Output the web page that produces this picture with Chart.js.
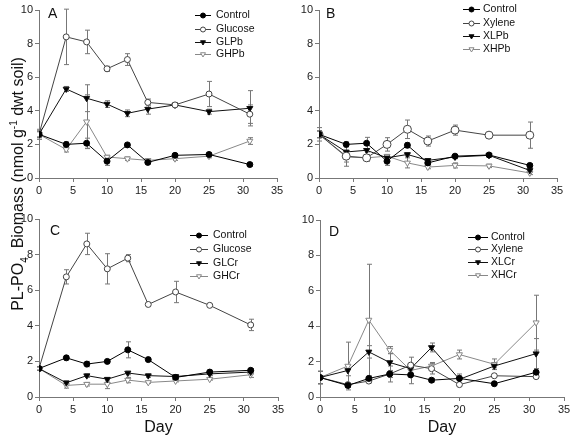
<!DOCTYPE html>
<html>
<head>
<meta charset="utf-8">
<script src="https://cdn.jsdelivr.net/npm/chart.js@4.4.1/dist/chart.umd.min.js"></script>
<style>
  body { margin: 0; background: #fff; }
  #wrap { position: relative; width: 576px; height: 437px; overflow: hidden; font-family: "Liberation Sans", Arial, sans-serif; }
  canvas { position: absolute; }
  #ytitle {
    position: absolute; left: -136px; top: 174px; width: 300px; height: 20px;
    line-height: 20px; text-align: center; font-size: 16px; color: #111;
    transform: rotate(-90deg); white-space: nowrap;
  }
  #ytitle sub, #ytitle sup { font-size: 10px; }
</style>
</head>
<body>
<div id="wrap">
  <canvas id="cA" width="290" height="210" style="left:0;top:0"></canvas>
  <canvas id="cB" width="286" height="210" style="left:290px;top:0"></canvas>
  <canvas id="cC" width="290" height="227" style="left:0;top:210px"></canvas>
  <canvas id="cD" width="286" height="227" style="left:290px;top:210px"></canvas>
  <div id="ytitle">PL-PO<sub>4</sub>&nbsp; Biomass (nmol g<sup>-1</sup> dwt soil)</div>
</div>
<script>
// sampling days and axis ticks
const days = [0, 4, 7, 10, 13, 16, 20, 25, 31];
const xTicks = [0, 5, 10, 15, 20, 25, 30, 35];
const yTicks = [0, 2, 4, 6, 8, 10];

// panel A - glucose / Pb
const aLabels = ["Control", "Glucose", "GLPb", "GHPb"];
const aControl = [2.6, 2.0, 2.07, 1.0, 1.97, 0.93, 1.35, 1.4, 0.8];
const aGlucose = [2.6, 8.4, 8.1, 6.5, 7.05, 4.5, 4.35, 5.0, 3.8];
const aGLPb = [2.6, 5.3, 4.75, 4.4, 3.85, 4.1, 4.35, 3.95, 4.15];
const aGHPb = [2.6, 1.7, 3.35, 1.25, 1.15, 1.05, 1.15, 1.3, 2.2];
const aControlErr = [0.15, 0.15, 0.3, 0.25, 0.1, 0.1, 0.1, 0.1, 0.1];
const aGlucoseErr = [0.3, 1.65, 0.7, 0.15, 0.35, 0.2, 0.1, 0.75, 0.55];
const aGLPbErr = [0.2, 0.15, 0.8, 0.2, 0.2, 0.3, 0.1, 0.15, 1.05];
const aGHPbErr = [0.2, 0.15, 1.6, 0.1, 0.1, 0.1, 0.1, 0.1, 0.2];

// panel B - xylene / Pb
const bLabels = ["Control", "Xylene", "XLPb", "XHPb"];
const bControl = [2.6, 2.0, 2.07, 1.0, 1.95, 0.9, 1.3, 1.37, 0.75];
const bXylene = [2.6, 1.3, 1.2, 2.0, 2.9, 2.2, 2.85, 2.55, 2.55];
const bXLPb = [2.6, 1.55, 1.65, 1.2, 1.4, 1.05, 1.25, 1.35, 0.45];
const bXHPb = [2.6, 1.25, 1.2, 1.3, 0.9, 0.65, 0.75, 0.72, 0.3];
const bControlErr = [0.4, 0.15, 0.35, 0.25, 0.15, 0.1, 0.1, 0.1, 0.1];
const bXyleneErr = [0.2, 0.6, 0.2, 0.4, 0.55, 0.3, 0.3, 0.1, 0.78];
const bXLPbErr = [0.2, 0.1, 0.1, 0.1, 0.1, 0.1, 0.1, 0.1, 0.1];
const bXHPbErr = [0.2, 0.3, 0.1, 0.1, 0.3, 0.1, 0.15, 0.1, 0.1];

// panel C - glucose / Cr
const cLabels = ["Control", "Glucose", "GLCr", "GHCr"];
const cControl = [1.6, 2.2, 1.85, 2.0, 2.65, 2.1, 1.1, 1.4, 1.5];
const cGlucose = [1.6, 6.75, 8.6, 7.2, 7.8, 5.2, 5.9, 5.15, 4.05];
const cGLCr = [1.6, 0.8, 1.2, 1.0, 1.35, 1.2, 1.15, 1.3, 1.4];
const cGHCr = [1.6, 0.65, 0.72, 0.72, 0.95, 0.82, 0.9, 1.0, 1.25];
const cControlErr = [0.1, 0.12, 0.15, 0.1, 0.45, 0.1, 0.1, 0.1, 0.1];
const cGlucoseErr = [0.1, 0.4, 0.6, 0.85, 0.2, 0.1, 0.6, 0.05, 0.32];
const cGLCrErr = [0.1, 0.1, 0.1, 0.1, 0.1, 0.1, 0.1, 0.1, 0.1];
const cGHCrErr = [0.1, 0.15, 0.1, 0.25, 0.15, 0.05, 0.05, 0.05, 0.15];

// panel D - xylene / Cr
const dLabels = ["Control", "Xylene", "XLCr", "XHCr"];
const dControl = [1.1, 0.65, 1.05, 1.3, 1.25, 0.95, 1.05, 0.75, 1.4];
const dXylene = [1.1, 0.7, 0.9, 1.3, 1.8, 1.6, 0.7, 1.2, 1.15];
const dXLCr = [1.1, 1.5, 2.55, 1.95, 1.6, 2.8, 1.0, 1.75, 2.45];
const dXHCr = [1.1, 1.75, 4.35, 2.65, 1.5, 1.75, 2.4, 1.85, 4.2];
const dControlErr = [0.35, 0.1, 0.1, 0.45, 0.5, 0.1, 0.25, 0.1, 0.2];
const dXyleneErr = [0.35, 0.1, 0.1, 0.2, 0.45, 0.3, 0.1, 0.1, 0.1];
const dXLCrErr = [0.35, 0.3, 0.35, 0.5, 0.3, 0.25, 0.2, 0.1, 0.85];
const dXHCrErr = [0.35, 1.35, 3.15, 0.2, 0.3, 0.2, 0.25, 0.3, 1.55];

// marker styles per treatment type
const STYLES = [
  { line: "#000", fill: "#000", shape: "circle", rot: 0, r: 3 },
  { line: "#444", fill: "#fff", shape: "circle", rot: 0, r: 3 },
  { line: "#111", fill: "#000", shape: "triangle", rot: 180, r: 3.5 },
  { line: "#888", fill: "#fff", shape: "triangle", rot: 180, r: 3.5 }
];

function marker(ctx, st, x, y, r) {
  ctx.beginPath();
  if (st.shape === "circle") {
    ctx.arc(x, y, r, 0, Math.PI * 2);
  } else {
    // down-pointing triangle
    ctx.moveTo(x - r, y - r * 0.7);
    ctx.lineTo(x + r, y - r * 0.7);
    ctx.lineTo(x, y + r);
    ctx.closePath();
  }
  ctx.fillStyle = st.fill;
  ctx.strokeStyle = st.line;
  ctx.lineWidth = 1;
  ctx.fill();
  ctx.stroke();
}

// error bars, drawn under the markers
const errorBars = {
  id: "errorBars",
  beforeDatasetsDraw(chart) {
    const { ctx, scales: { x, y } } = chart;
    ctx.save();
    ctx.strokeStyle = "#777";
    ctx.lineWidth = 1;
    chart.data.datasets.forEach(ds => {
      (ds.errors || []).forEach((e, i) => {
        const p = ds.data[i];
        const px = Math.round(x.getPixelForValue(p.x)) + 0.5;
        const top = y.getPixelForValue(p.y + e);
        const bot = y.getPixelForValue(Math.max(0, p.y - e));
        ctx.beginPath();
        ctx.moveTo(px, top); ctx.lineTo(px, bot);
        ctx.moveTo(px - 2.5, top); ctx.lineTo(px + 2.5, top);
        ctx.moveTo(px - 2.5, bot); ctx.lineTo(px + 2.5, bot);
        ctx.stroke();
      });
    });
    ctx.restore();
  }
};

// panel letter + inset legend
const panelDeco = {
  id: "panelDeco",
  afterDraw(chart, args, o) {
    const ctx = chart.ctx;
    ctx.save();
    ctx.fillStyle = "#111";
    ctx.font = "14px 'Liberation Sans', Arial, sans-serif";
    ctx.textBaseline = "alphabetic";
    ctx.fillText(o.letter, o.letterX, o.letterY);
    ctx.font = "10.5px 'Liberation Sans', Arial, sans-serif";
    ctx.textBaseline = "middle";
    chart.data.datasets.forEach((ds, i) => {
      const y = o.rows[i] + 0.5;
      ctx.strokeStyle = ds.borderColor;
      ctx.lineWidth = 1;
      ctx.beginPath();
      ctx.moveTo(o.x1, y); ctx.lineTo(o.x2, y);
      ctx.stroke();
      marker(ctx, ds.st, (o.x1 + o.x2) / 2, y, 2.5);
      ctx.fillStyle = "#111";
      ctx.fillText(ds.label, o.tx, y);
    });
    ctx.restore();
  }
};

function makePanel(id, labels, series, errs, p) {
  const datasets = series.map((vals, i) => {
    const st = STYLES[i];
    return {
      label: labels[i],
      data: days.map((d, j) => ({ x: d, y: vals[j] })),
      errors: errs[i],
      st: st,
      borderColor: st.line,
      borderWidth: 1,
      backgroundColor: st.fill,
      pointBackgroundColor: st.fill,
      pointBorderColor: st.line,
      pointBorderWidth: 1,
      pointStyle: st.shape,
      pointRotation: st.rot,
      pointRadius: (p.openR && i === 1) ? p.openR : st.r,
      tension: 0
    };
  });
  const tickFont = { family: "'Liberation Sans', Arial, sans-serif", size: 11 };
  return new Chart(document.getElementById(id), {
    type: "line",
    data: { datasets },
    plugins: [errorBars, panelDeco],
    options: {
      responsive: false,
      animation: false,
      devicePixelRatio: 1,
      layout: { padding: { left: 0, top: p.top, right: p.right, bottom: 0 } },
      plugins: {
        legend: { display: false },
        tooltip: { enabled: false },
        panelDeco: p.deco
      },
      scales: {
        x: {
          type: "linear", min: 0, max: 35,
          afterBuildTicks: s => { s.ticks = xTicks.map(v => ({ value: v })); },
          afterFit: s => { s.height = p.xh; },
          ticks: { font: tickFont, color: "#222", padding: 2, maxRotation: 0 },
          grid: { drawOnChartArea: false, drawTicks: true, tickLength: 4, color: "#777" },
          border: { color: "#777" },
          title: {
            display: p.day, text: "Day", color: "#111",
            font: { family: "'Liberation Sans', Arial, sans-serif", size: 16 },
            padding: { top: 0, bottom: 0 }
          }
        },
        y: {
          min: 0, max: 10,
          afterBuildTicks: s => { s.ticks = yTicks.map(v => ({ value: v })); },
          afterFit: s => { s.width = p.yw; },
          ticks: { font: tickFont, color: "#222", padding: 2 },
          grid: { drawOnChartArea: false, drawTicks: true, tickLength: 4, color: "#777" },
          border: { color: "#777" }
        }
      }
    }
  });
}

makePanel("cA", aLabels, [aControl, aGlucose, aGLPb, aGHPb],
  [aControlErr, aGlucoseErr, aGLPbErr, aGHPbErr],
  { top: 10, right: 13, yw: 39, xh: 32, day: false,
    deco: { letter: "A", letterX: 48, letterY: 18, x1: 195, x2: 211, tx: 216, rows: [15, 29, 42, 54] } });

makePanel("cB", bLabels, [bControl, bXylene, bXLPb, bXHPb],
  [bControlErr, bXyleneErr, bXLPbErr, bXHPbErr],
  { top: 10, right: 19, yw: 29, xh: 32, day: false, openR: 4,
    deco: { letter: "B", letterX: 36, letterY: 18, x1: 173, x2: 190, tx: 193, rows: [9, 23, 36, 49] } });

makePanel("cC", cLabels, [cControl, cGlucose, cGLCr, cGHCr],
  [cControlErr, cGlucoseErr, cGLCrErr, cGHCrErr],
  { top: 9, right: 12, yw: 39, xh: 40, day: true,
    deco: { letter: "C", letterX: 50, letterY: 25, x1: 190, x2: 208, tx: 213, rows: [25, 39, 53, 66] } });

makePanel("cD", dLabels, [dControl, dXylene, dXLCr, dXHCr],
  [dControlErr, dXyleneErr, dXLCrErr, dXHCrErr],
  { top: 10, right: 12, yw: 30, xh: 40, day: true,
    deco: { letter: "D", letterX: 39, letterY: 26, x1: 178, x2: 198, tx: 201, rows: [27, 39, 52, 65] } });
</script>
</body>
</html>
